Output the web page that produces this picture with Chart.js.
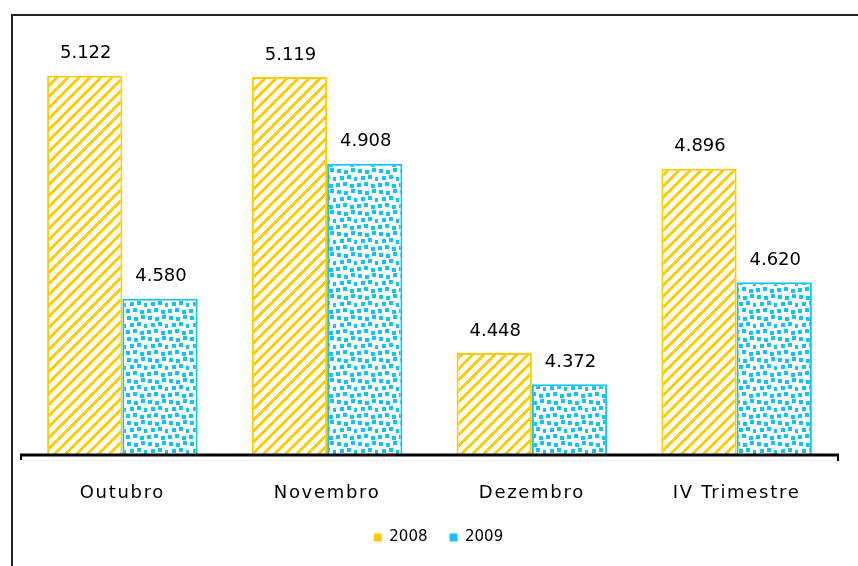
<!DOCTYPE html>
<html><head><meta charset="utf-8">
<script src="https://cdn.jsdelivr.net/npm/chart.js@4.4.0/dist/chart.umd.min.js"></script>
<style>html,body{margin:0;padding:0;background:#fff;}#wrap{width:858px;height:566px;}</style>
</head><body><div id="wrap"><canvas id="c" width="858" height="566"></canvas></div>
<script>
const categories = ['Outubro', 'Novembro', 'Dezembro', 'IV Trimestre'];
const seriesNames = ['2008', '2009'];
const values2008 = [5.122, 5.119, 4.448, 4.896];
const values2009 = [4.580, 4.908, 4.372, 4.620];

const YELLOW = '#FFCC00';
const CYAN = '#14C3F5';
const FONT = "'DejaVu Sans', sans-serif";

function hexRgb(h) { return [parseInt(h.slice(1,3),16), parseInt(h.slice(3,5),16), parseInt(h.slice(5,7),16)]; }

function stripePattern(color) {
  const s = 11, w = 4, c = document.createElement('canvas');
  c.width = s; c.height = s;
  const g = c.getContext('2d');
  const img = g.createImageData(s, s), rgb = hexRgb(color);
  for (let y = 0; y < s; y++) for (let x = 0; x < s; x++) {
    const on = ((x + y) % s) < w;
    const p = (y * s + x) * 4;
    img.data[p] = on ? rgb[0] : 255; img.data[p+1] = on ? rgb[1] : 255; img.data[p+2] = on ? rgb[2] : 255; img.data[p+3] = 255;
  }
  g.putImageData(img, 0, 0);
  return g.createPattern(c, 'repeat');
}
function dotPattern(color) {
  const s = 21, c = document.createElement('canvas');
  c.width = s; c.height = s;
  const g = c.getContext('2d');
  g.fillStyle = '#fff'; g.fillRect(0, 0, s, s);
  g.fillStyle = color;
  const dots = [[1,1],[8,2],[15,0],[4,8],[11,7],[18,9],[0,15],[7,14],[14,16]];
  for (const [x, y] of dots) g.fillRect(x, y, 4, 4);
  return g.createPattern(c, 'repeat');
}

const framePlugin = {
  id: 'frame',
  beforeDraw(chart) {
    const ctx = chart.ctx;
    ctx.save();
    ctx.strokeStyle = '#222'; ctx.lineWidth = 2;
    ctx.strokeRect(12, 15, 900, 700);
    ctx.restore();
  },
  afterLayout(chart) {
    const s = chart.scales.x;
    if (!s._spaced) {
      const orig = s.drawLabels.bind(s);
      s.drawLabels = function (ca) {
        const ctx = this.ctx; ctx.save(); ctx.letterSpacing = '1.7px'; orig(ca); ctx.restore();
      };
      s._spaced = true;
    }
    if (chart.legend) { chart.legend.left += 9; chart.legend.right += 9; }
  },
  afterDatasetsDraw(chart) {
    const ctx = chart.ctx, a = chart.chartArea;
    ctx.save();
    ctx.strokeStyle = '#000'; ctx.lineWidth = 3;
    ctx.beginPath();
    ctx.moveTo(a.left, a.bottom); ctx.lineTo(a.right, a.bottom);
    ctx.stroke();
    ctx.lineWidth = 2;
    ctx.beginPath();
    ctx.moveTo(a.left + 1, a.bottom); ctx.lineTo(a.left + 1, a.bottom + 5);
    ctx.moveTo(a.right - 1, a.bottom); ctx.lineTo(a.right - 1, a.bottom + 6);
    ctx.stroke();
    ctx.fillStyle = '#000';
    ctx.font = '18px ' + FONT;
    ctx.textAlign = 'center'; ctx.textBaseline = 'middle';
    chart.data.datasets.forEach((ds, di) => {
      chart.getDatasetMeta(di).data.forEach((el, i) => {
        ctx.fillText(ds.data[i].toFixed(3), el.x + 1, el.y - 22);
      });
    });
    ctx.restore();
  }
};

const legendColors = [YELLOW, CYAN];

new Chart(document.getElementById('c'), {
  type: 'bar',
  data: {
    labels: categories,
    datasets: [
      { label: seriesNames[0], data: values2008, backgroundColor: stripePattern(YELLOW), borderColor: YELLOW, borderWidth: 2 },
      { label: seriesNames[1], data: values2009, backgroundColor: dotPattern(CYAN), borderColor: CYAN, borderWidth: 2 }
    ]
  },
  options: {
    responsive: false,
    devicePixelRatio: 1,
    animation: false,
    layout: { padding: { left: 20, right: 19, top: 23, bottom: 11 } },
    datasets: { bar: { categoryPercentage: 0.735, barPercentage: 1, borderSkipped: 'bottom' } },
    scales: {
      x: {
        offset: true,
        grid: { display: false, drawTicks: false },
        border: { display: false },
        ticks: { color: '#000', font: { family: FONT, size: 18 }, padding: 28 },
        afterFit(s) { s.height = 53; }
      },
      y: { display: false, min: 4.2, max: 5.25 }
    },
    plugins: {
      tooltip: { enabled: false },
      legend: {
        position: 'bottom',
        labels: {
          boxWidth: 8, boxHeight: 8, padding: 22, color: '#000',
          font: { family: FONT, size: 15 },
          generateLabels(chart) {
            return chart.data.datasets.map((ds, i) => ({
              text: ds.label, fillStyle: legendColors[i], strokeStyle: legendColors[i],
              lineWidth: 0, hidden: false, datasetIndex: i, fontColor: '#000'
            }));
          }
        }
      }
    }
  },
  plugins: [framePlugin]
});
</script></body></html>
